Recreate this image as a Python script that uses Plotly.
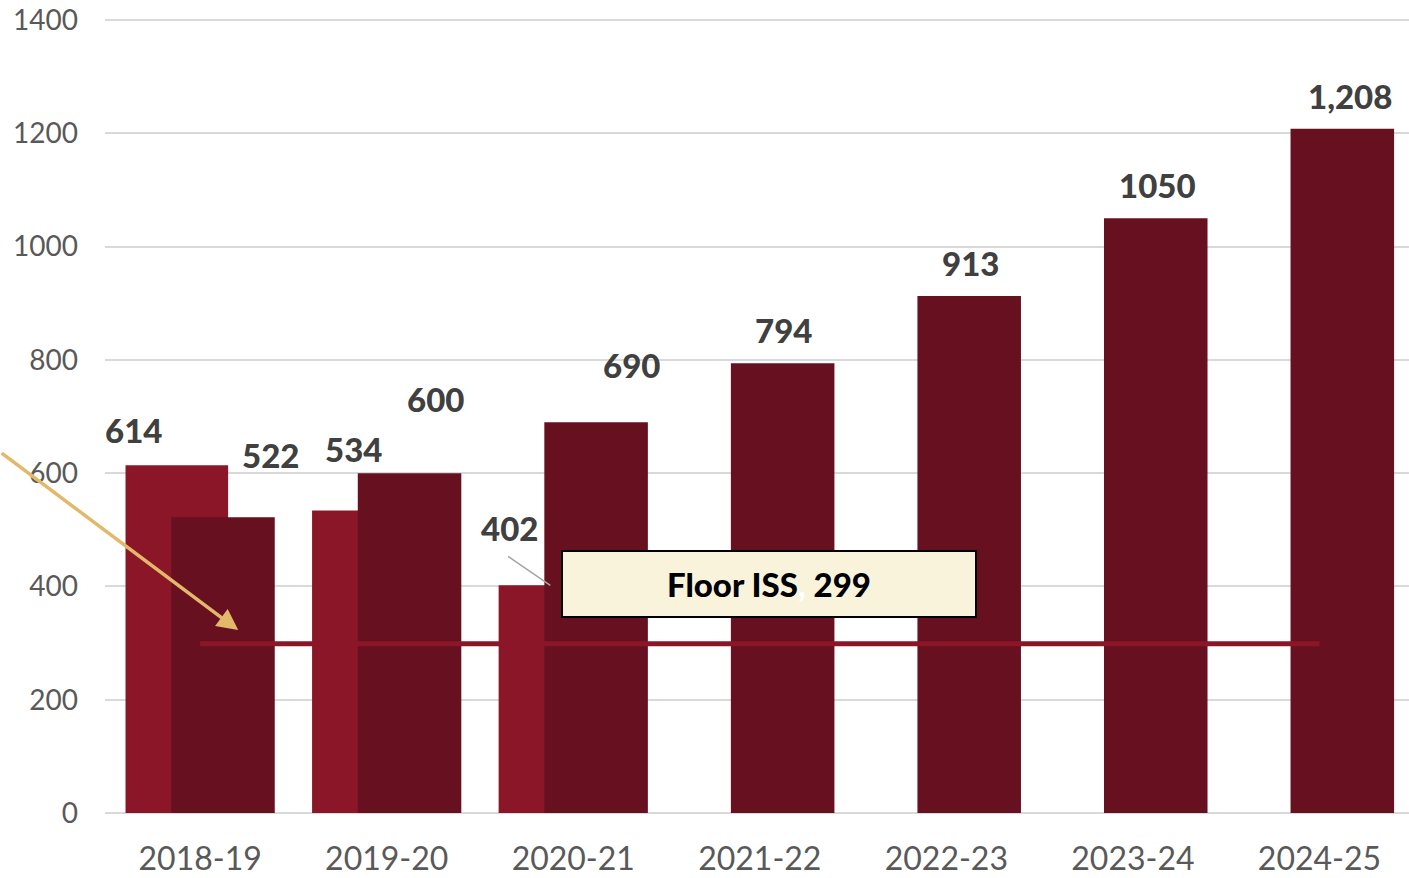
import plotly.graph_objects as go

YEARS = ["2018-19", "2019-20", "2020-21", "2021-22", "2022-23", "2023-24", "2024-25"]
EARLY_YEARS = ["2018-19", "2019-20", "2020-21"]
EARLY_VALUES = [614, 534, 402]
EARLY_LABELS = ["614", "534", "402"]
MAIN_VALUES = [522, 600, 690, 794, 913, 1050, 1208]
MAIN_LABELS = ["522", "600", "690", "794", "913", "1050", "1,208"]
FLOOR = 299
FLOOR_TEXT = "Floor ISS<span style='color:white'>,</span> 299"

LIGHT_RED = "#8B1628"
DARK_RED = "#671120"
LABEL_COLOR = "#404040"
FONT = "Lato"

# label nudges (px) relative to bar category centre / bar top
EARLY_SHIFT_X = [-67, -33, -64]
EARLY_SHIFT_Y = [35, 62, 57]
MAIN_SHIFT_X = [70, 49, 58, 24, 24, 25, 31]
MAIN_SHIFT_Y = [62, 74, 57, 33, 33, 33, 33]

fig = go.Figure()
fig.add_trace(go.Bar(
    x=EARLY_YEARS, y=EARLY_VALUES, marker_color=LIGHT_RED, marker_line_width=0,
    offset=-0.40, width=0.55, showlegend=False, hoverinfo="x+y",
))
fig.add_trace(go.Bar(
    x=YEARS, y=MAIN_VALUES, marker_color=DARK_RED, marker_line_width=0,
    offset=-0.155, width=0.555, showlegend=False, hoverinfo="x+y",
))
fig.add_trace(go.Scatter(
    x=[YEARS[0], YEARS[-1]], y=[FLOOR, FLOOR], mode="lines",
    line=dict(color=LIGHT_RED, width=5), showlegend=False, hoverinfo="skip",
))

label_font = dict(family=FONT, size=33, color=LABEL_COLOR, weight=900)
annotations = []
for yr, v, t, dx, dy in zip(EARLY_YEARS, EARLY_VALUES, EARLY_LABELS, EARLY_SHIFT_X, EARLY_SHIFT_Y):
    annotations.append(dict(x=yr, y=v, text=t, showarrow=False, xshift=dx, yshift=dy,
                            yanchor="middle", font=label_font))
for yr, v, t, dx, dy in zip(YEARS, MAIN_VALUES, MAIN_LABELS, MAIN_SHIFT_X, MAIN_SHIFT_Y):
    annotations.append(dict(x=yr, y=v, text=t, showarrow=False, xshift=dx, yshift=dy,
                            yanchor="middle", font=label_font))

# callout box
annotations.append(dict(
    x=3.05, y=405, xref="x", yref="y", text=FLOOR_TEXT, showarrow=False,
    width=410, height=62, bgcolor="#FAF3DC", bordercolor="black", borderwidth=2,
    font=dict(family=FONT, size=33, color="black", weight=900),
))
# golden arrow pointing to the floor line
annotations.append(dict(
    x=0.204, y=323, xref="x", yref="y", ax=-238, ay=-178, axref="pixel", ayref="pixel",
    text="", showarrow=True, arrowhead=2, arrowsize=1.2, arrowwidth=3.5, arrowcolor="#E2B96A",
))
fig.update_layout(annotations=annotations)

fig.add_shape(type="line", x0=1.651, y0=453, x1=1.877, y1=402, xref="x", yref="y",
              line=dict(color="#A6A6A6", width=1.5))

fig.update_layout(
    barmode="overlay",
    width=1409, height=878,
    plot_bgcolor="white", paper_bgcolor="white",
    margin=dict(l=105, r=0, t=19, b=65),
    font=dict(family=FONT),
)
fig.update_xaxes(
    range=[-0.51, 6.48], showgrid=False, showline=False, ticks="",
    tickfont=dict(family=FONT, size=32, color="#595959"), ticklabelstandoff=24,
)
fig.update_yaxes(
    range=[0, 1402], tickvals=[0, 200, 400, 600, 800, 1000, 1200, 1400],
    showgrid=True, gridcolor="#D9D9D9", gridwidth=1.5,
    zeroline=True, zerolinecolor="#D9D9D9", zerolinewidth=2, showline=False, ticks="",
    tickfont=dict(family=FONT, size=28, color="#595959"), ticklabelstandoff=26,
    ticklabeloverflow="allow",
)

fig.write_html("out.html", config={"displayModeBar": False},
               post_script="document.body.style.margin='0px';")
